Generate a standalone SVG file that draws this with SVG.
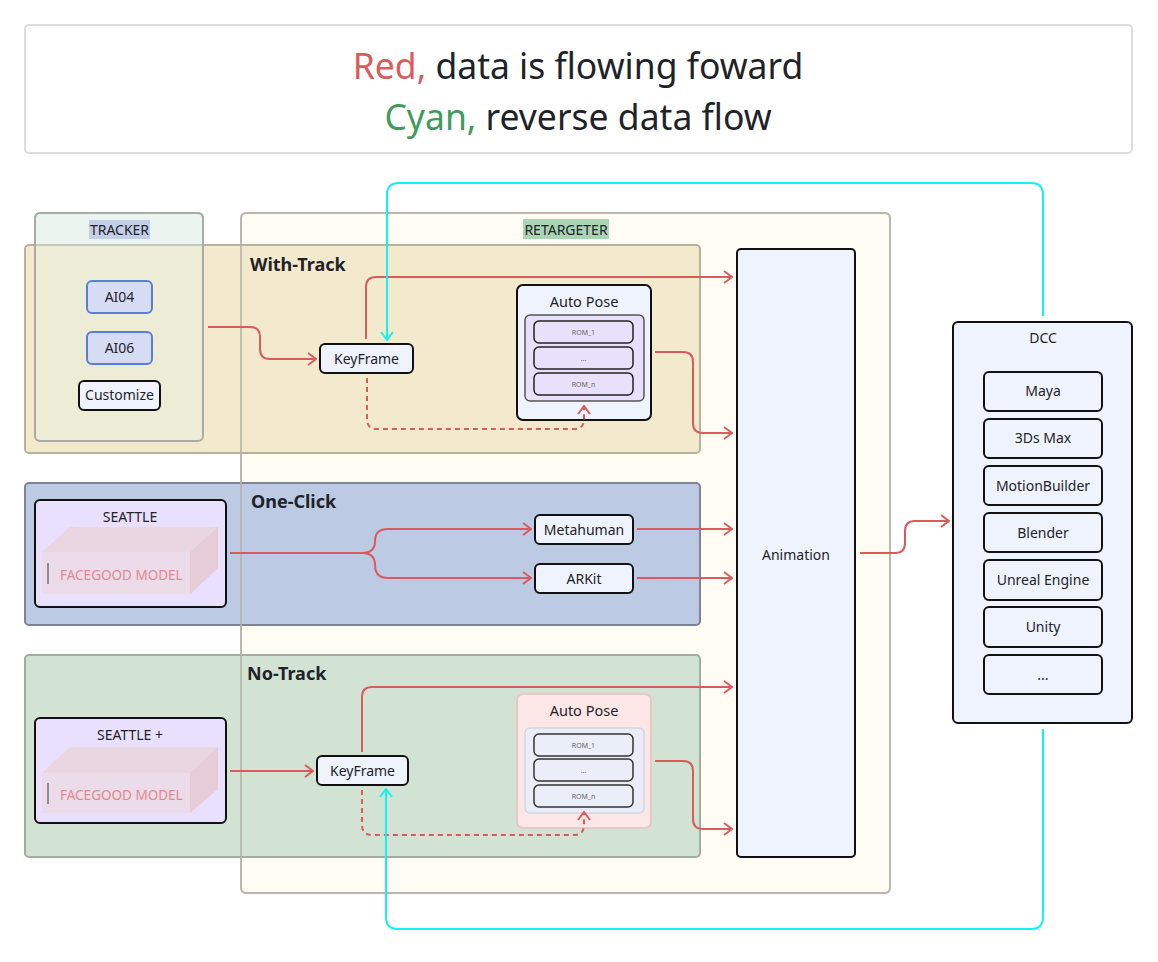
<svg xmlns="http://www.w3.org/2000/svg" width="1158" height="962" viewBox="0 0 1158 962">
<defs>
<style>
text{font-family:"Noto Sans","Liberation Sans",sans-serif;fill:#1f2329}
.n{font-size:14px;text-anchor:middle}
.node{fill:#eef3fd;stroke:#111;stroke-width:2}
.rom{fill:#e9e1fc;stroke:#222;stroke-width:1.5}
.rom2{fill:#eaeef8;stroke:#333;stroke-width:1.5}
.romt{font-size:7px;text-anchor:middle;fill:#666}
.band{font-size:18px;font-weight:bold}
.red{fill:none;stroke:#d95c5c;stroke-width:2}
.dash{stroke-dasharray:5 4}
.cyan{fill:none;stroke:#12f2f2;stroke-width:2}
.fg{font-size:13.5px;fill:#e08a8e}
.lbl{font-size:14px;text-anchor:middle}
</style>
<marker id="ar" viewBox="0 0 10 14" refX="9" refY="7" markerWidth="10" markerHeight="14" markerUnits="userSpaceOnUse" orient="auto"><path d="M1,1 L9,7 L1,13" fill="none" stroke="#d95c5c" stroke-width="2"/></marker>
<marker id="ac" viewBox="0 0 10 14" refX="9" refY="7" markerWidth="10" markerHeight="14" markerUnits="userSpaceOnUse" orient="auto"><path d="M1,1 L9,7 L1,13" fill="none" stroke="#12f2f2" stroke-width="2"/></marker>
</defs>
<rect width="1158" height="962" fill="#fff"/>

<g id="legend">
<rect x="25" y="25" width="1107" height="128" rx="4" fill="#fff" stroke="#dcdcdc" stroke-width="2"/>
<text x="578" y="79" text-anchor="middle" font-size="35.5"><tspan fill="#d95c5c">Red,</tspan> data is flowing foward</text>
<text x="578" y="130" text-anchor="middle" font-size="35.5"><tspan fill="#3f9a5e">Cyan,</tspan> reverse data flow</text>
</g>

<g id="retargeter-bg"><rect x="241" y="213" width="649" height="680" rx="5" fill="#fffcf4" stroke="#d0ccc2" stroke-width="2"/></g>
<g id="tracker-bg"><rect x="35" y="213" width="168" height="228" rx="5" fill="#f0f6f1" stroke="#a9aca6" stroke-width="2"/></g>

<g id="with-track">
<rect x="25" y="245" width="675" height="208" rx="4" fill="#f3e9cc" stroke="#b8b19c" stroke-width="2"/>
<text class="band" x="250" y="271">With-Track</text>
</g>
<g id="one-click">
<rect x="25" y="483" width="675" height="142" rx="4" fill="#bccbe3" stroke="#7d8595" stroke-width="2"/>
<text class="band" x="251" y="508">One-Click</text>
</g>
<g id="no-track">
<rect x="25" y="655" width="675" height="202" rx="4" fill="#d3e3d3" stroke="#9fae9f" stroke-width="2"/>
<text class="band" x="247" y="680">No-Track</text>
</g>

<g id="tracker">
<rect x="35" y="213" width="168" height="228" rx="5" fill="#e2f3ea" fill-opacity="0.35" stroke="#a9aca6" stroke-width="2"/>
<rect x="89" y="220" width="61" height="19" fill="#c3cfe8"/>
<text class="lbl" x="119.5" y="235">TRACKER</text>
</g>
<g id="retargeter">
<rect x="241" y="213" width="649" height="680" rx="5" fill="none" stroke="#b5b2a8" stroke-opacity="0.8" stroke-width="2"/>
<rect x="523" y="219" width="86" height="20" fill="#a9d5b5"/>
<text class="lbl" x="566" y="235">RETARGETER</text>
</g>

<g id="ai04"><rect x="87" y="281" width="65" height="32" rx="5" fill="#d6dcf4" stroke="#5b7fd0" stroke-width="2"/><text class="n" x="119.5" y="302">AI04</text></g>
<g id="ai06"><rect x="87" y="332" width="65" height="32" rx="5" fill="#d6dcf4" stroke="#5b7fd0" stroke-width="2"/><text class="n" x="119.5" y="353">AI06</text></g>
<g id="customize"><rect x="79" y="381" width="81" height="29" rx="5" class="node"/><text class="n" x="119.5" y="400">Customize</text></g>

<g id="keyframe1"><rect x="320" y="344" width="93" height="29" rx="5" class="node"/><text class="n" x="366.5" y="364">KeyFrame</text></g>

<g id="autopose1">
<rect x="517" y="285" width="134" height="135" rx="6" class="node"/>
<text x="584" y="307" text-anchor="middle" font-size="14.5">Auto Pose</text>
<rect x="525" y="315" width="119" height="86" rx="5" fill="#e8e0fb" stroke="#555" stroke-width="1.5"/>
<rect x="534" y="321" width="99" height="22" rx="5" class="rom"/><text class="romt" x="583.5" y="334.5">ROM_1</text>
<rect x="534" y="347" width="99" height="22" rx="5" class="rom"/><text class="romt" x="583.5" y="360.5">...</text>
<rect x="534" y="373" width="99" height="22" rx="5" class="rom"/><text class="romt" x="583.5" y="386.5">ROM_n</text>
</g>

<g id="seattle">
<rect x="35" y="500" width="191" height="107" rx="5" fill="#e9e0fd" stroke="#111" stroke-width="2"/>
<text class="n" x="130" y="522">SEATTLE</text>
<polygon points="42,552 70,527 218,527 190,552" fill="#ead6e1"/>
<polygon points="190,552 218,527 218,568 190,594" fill="#e6ccd6"/>
<rect x="42" y="552" width="148" height="42" fill="#ecdbe8"/>
<rect x="47" y="563" width="2" height="21" fill="#8d8d9a"/>
<text class="fg" x="60" y="580">FACEGOOD MODEL</text>
</g>
<g id="metahuman"><rect x="535" y="515" width="98" height="29" rx="5" class="node"/><text class="n" x="584" y="534.5">Metahuman</text></g>
<g id="arkit"><rect x="535" y="564" width="98" height="29" rx="5" class="node"/><text class="n" x="584" y="583.5">ARKit</text></g>

<g id="seattle-plus">
<rect x="35" y="718" width="191" height="105" rx="5" fill="#e9e0fd" stroke="#111" stroke-width="2"/>
<text class="n" x="130" y="740">SEATTLE +</text>
<polygon points="42,773 70,747 218,747 190,773" fill="#ead6e1"/>
<polygon points="190,773 218,747 218,789 190,813" fill="#e6ccd6"/>
<rect x="42" y="773" width="148" height="40" fill="#ecdbe8"/>
<rect x="47" y="783" width="2" height="21" fill="#8d8d9a"/>
<text class="fg" x="60" y="800">FACEGOOD MODEL</text>
</g>
<g id="keyframe2"><rect x="317" y="756" width="91" height="29" rx="5" class="node"/><text class="n" x="362.5" y="776">KeyFrame</text></g>

<g id="autopose2">
<rect x="517" y="694" width="134" height="134" rx="6" fill="#fde6e6" stroke="#e6c8c8" stroke-width="2"/>
<text x="584" y="716" text-anchor="middle" font-size="14.5">Auto Pose</text>
<rect x="525" y="728" width="119" height="85" rx="5" fill="#e9edf7" stroke="#d5d8e0" stroke-width="1.5"/>
<rect x="534" y="734" width="99" height="22" rx="5" class="rom2"/><text class="romt" x="583.5" y="747.5">ROM_1</text>
<rect x="534" y="759" width="99" height="22" rx="5" class="rom2"/><text class="romt" x="583.5" y="772.5">...</text>
<rect x="534" y="785" width="99" height="22" rx="5" class="rom2"/><text class="romt" x="583.5" y="798.5">ROM_n</text>
</g>

<g id="animation"><rect x="737" y="249" width="118" height="608" rx="4" class="node"/><text class="n" x="796" y="560">Animation</text></g>

<g id="dcc">
<rect x="953" y="322" width="179" height="401" rx="5" class="node"/>
<text class="n" x="1043" y="343">DCC</text>
<rect x="984" y="372" width="118" height="39" rx="5" class="node"/><text class="n" x="1043" y="396">Maya</text>
<rect x="984" y="419" width="118" height="39" rx="5" class="node"/><text class="n" x="1043" y="443">3Ds Max</text>
<rect x="984" y="466" width="118" height="39" rx="5" class="node"/><text class="n" x="1043" y="490.5">MotionBuilder</text>
<rect x="984" y="513" width="118" height="39" rx="5" class="node"/><text class="n" x="1043" y="537.5">Blender</text>
<rect x="984" y="560" width="118" height="40" rx="5" class="node"/><text class="n" x="1043" y="585">Unreal Engine</text>
<rect x="984" y="607" width="118" height="40" rx="5" class="node"/><text class="n" x="1043" y="632">Unity</text>
<rect x="984" y="655" width="118" height="39" rx="5" class="node"/><text class="n" x="1043" y="680">...</text>
</g>

<g id="connectors">
<path class="red" marker-end="url(#ar)" d="M208,327 H250 Q260,327 260,337 V349 Q260,359 270,359 H316"/>
<path class="red" marker-end="url(#ar)" d="M366,339 V287 Q366,277 376,277 H732"/>
<path class="red dash" marker-end="url(#ar)" d="M367,378 V419 Q367,429 377,429 H574 Q584,429 584,419 V406"/>
<path class="red" marker-end="url(#ar)" d="M655,352 H683 Q693,352 693,362 V423 Q693,433 703,433 H732"/>
<path class="red" marker-end="url(#ar)" d="M230,553 H362 Q375,553 375,541 Q375,529 388,529 H531"/>
<path class="red" marker-end="url(#ar)" d="M362,553 Q375,553 375,565 Q375,578 388,578 H531"/>
<path class="red" marker-end="url(#ar)" d="M637,529 H732"/>
<path class="red" marker-end="url(#ar)" d="M637,578 H732"/>
<path class="red" marker-end="url(#ar)" d="M230,771 H313"/>
<path class="red" marker-end="url(#ar)" d="M362,752 V697 Q362,687 372,687 H732"/>
<path class="red dash" marker-end="url(#ar)" d="M362,790 V825 Q362,835 372,835 H574 Q584,835 584,825 V812"/>
<path class="red" marker-end="url(#ar)" d="M655,761 H683 Q693,761 693,771 V819 Q693,829 703,829 H732"/>
<path class="red" marker-end="url(#ar)" d="M860,553 H895 Q905,553 905,543 V531 Q905,521 915,521 H949"/>
<path class="cyan" marker-end="url(#ac)" d="M1043,316 V195 Q1043,183 1031,183 H399 Q387,183 387,195 V340"/>
<path class="cyan" marker-end="url(#ac)" d="M1043,729 V917 Q1043,929 1031,929 H398 Q386,929 386,917 V789"/>
</g>
</svg>
